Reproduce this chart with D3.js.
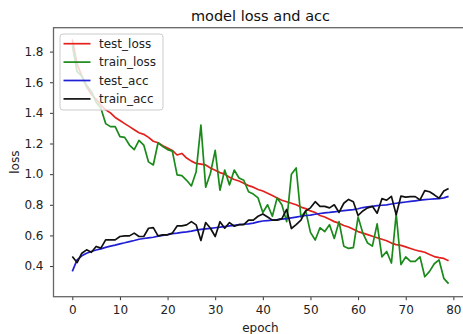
<!DOCTYPE html>
<html>
<head>
<meta charset="utf-8">
<script src="https://cdn.jsdelivr.net/npm/d3@7"></script>
<style>
  body { margin: 0; background: #fff; }
  svg { display: block; font-family: "DejaVu Sans", sans-serif; }
</style>
</head>
<body>
<div id="chart"></div>
<script>
// values, one per epoch
const testLoss = [1.88, 1.72, 1.64, 1.57, 1.52, 1.49, 1.45, 1.42, 1.40, 1.37,
  1.35, 1.33, 1.31, 1.29, 1.27, 1.26, 1.24, 1.215, 1.205, 1.185,
  1.17, 1.155, 1.125, 1.135, 1.105, 1.085, 1.07, 1.065, 1.06, 1.04,
  1.025, 1.01, 1.0, 0.98, 0.965, 0.955, 0.94, 0.925, 0.915, 0.90,
  0.89, 0.875, 0.86, 0.845, 0.83, 0.82, 0.81, 0.80, 0.785, 0.775,
  0.76, 0.75, 0.73, 0.72, 0.705, 0.69, 0.68, 0.665, 0.655, 0.64,
  0.625, 0.615, 0.605, 0.595, 0.585, 0.575, 0.565, 0.55, 0.54, 0.535,
  0.525, 0.515, 0.505, 0.497, 0.49, 0.475, 0.462, 0.455, 0.45, 0.435];

const trainLoss = [1.84, 1.67, 1.64, 1.58, 1.54, 1.47, 1.43, 1.33, 1.31, 1.31,
  1.245, 1.24, 1.19, 1.16, 1.22, 1.19, 1.08, 1.06, 1.205, 1.18,
  1.16, 1.15, 0.995, 0.99, 0.96, 0.923, 1.016, 1.32, 0.915, 1.006,
  1.155, 0.895, 1.027, 0.93, 1.027, 0.975, 0.96, 0.885, 0.87, 0.845,
  0.75, 0.80, 0.725, 0.845, 0.80, 0.69, 1.00, 1.04, 0.72, 0.76,
  0.62, 0.57, 0.65, 0.625, 0.67, 0.58, 0.69, 0.53, 0.515, 0.52,
  0.72, 0.615, 0.55, 0.53, 0.675, 0.46, 0.495, 0.42, 0.74, 0.41,
  0.46, 0.43, 0.43, 0.46, 0.33, 0.365, 0.415, 0.44, 0.32, 0.285];

const testAcc = [0.365, 0.44, 0.467, 0.484, 0.495, 0.505, 0.512, 0.522, 0.53, 0.537,
  0.545, 0.552, 0.56, 0.567, 0.575, 0.58, 0.584, 0.588, 0.595, 0.60,
  0.605, 0.612, 0.615, 0.62, 0.623, 0.628, 0.635, 0.64, 0.643, 0.646,
  0.65, 0.654, 0.658, 0.662, 0.666, 0.67, 0.673, 0.676, 0.68, 0.688,
  0.694, 0.697, 0.70, 0.703, 0.707, 0.71, 0.715, 0.72, 0.725, 0.73,
  0.733, 0.738, 0.743, 0.747, 0.75, 0.754, 0.758, 0.762, 0.765, 0.768,
  0.774, 0.782, 0.786, 0.79, 0.794, 0.797, 0.80, 0.805, 0.81, 0.814,
  0.818, 0.822, 0.826, 0.83, 0.834, 0.836, 0.838, 0.84, 0.845, 0.855];

const trainAcc = [0.463, 0.423, 0.484, 0.506, 0.49, 0.528, 0.517, 0.571, 0.571, 0.571,
  0.593, 0.597, 0.597, 0.615, 0.593, 0.593, 0.647, 0.651, 0.597, 0.604,
  0.604, 0.615, 0.662, 0.662, 0.669, 0.69, 0.669, 0.567, 0.684, 0.647,
  0.593, 0.69, 0.647, 0.684, 0.66, 0.67, 0.67, 0.70, 0.70, 0.725,
  0.74, 0.72, 0.70, 0.70, 0.71, 0.77, 0.645, 0.67, 0.70, 0.76,
  0.78, 0.82, 0.79, 0.79, 0.78, 0.80, 0.75, 0.81, 0.835, 0.82,
  0.73, 0.76, 0.78, 0.79, 0.745, 0.84, 0.83, 0.855, 0.735, 0.857,
  0.85, 0.853, 0.853, 0.832, 0.892, 0.885, 0.865, 0.843, 0.89, 0.907];

const seriesNames = ["test_loss", "train_loss", "test_acc", "train_acc"];
const seriesColors = ["#e3211c", "#1a8a1a", "#1f1fd6", "#111111"];
const xTicks = [0, 10, 20, 30, 40, 50, 60, 70, 80];
const yTicks = [0.4, 0.6, 0.8, 1.0, 1.2, 1.4, 1.6, 1.8];

const width = 463;
const height = 334;
const plotLeft = 53.5, plotRight = 467.4, plotTop = 27.7, plotBottom = 296.7;

const svg = d3.select("#chart").append("svg")
  .attr("width", width)
  .attr("height", height);

const x = d3.scaleLinear().domain([-3.95, 82.95]).range([plotLeft, plotRight]);
const y = d3.scaleLinear().domain([0.2, 1.956]).range([plotBottom, plotTop]);

const allSeries = [testLoss, trainLoss, testAcc, trainAcc];

const line = d3.line()
  .x((d, i) => x(i))
  .y(d => y(d));

svg.append("g").selectAll("path").data(allSeries).join("path")
  .attr("d", line)
  .attr("fill", "none")
  .attr("stroke", (d, i) => seriesColors[i])
  .attr("stroke-width", 1.7)
  .attr("stroke-linejoin", "round");

// axes
const xAxis = svg.append("g")
  .attr("transform", `translate(0, ${plotBottom})`)
  .call(d3.axisBottom(x).tickValues(xTicks).tickFormat(d3.format("d")).tickSize(3.5).tickPadding(4.8));
const yAxis = svg.append("g")
  .attr("transform", `translate(${plotLeft}, 0)`)
  .call(d3.axisLeft(y).tickValues(yTicks).tickFormat(d3.format(".1f")).tickSize(3.5).tickPadding(6.5));

[xAxis, yAxis].forEach(g => {
  g.select(".domain").remove();
  g.selectAll("line").attr("stroke", "#333");
  g.selectAll("text").attr("font-size", 12).attr("fill", "#222")
    .attr("font-family", "DejaVu Sans, sans-serif");
});

// frame
svg.append("rect")
  .attr("x", plotLeft).attr("y", plotTop)
  .attr("width", plotRight - plotLeft).attr("height", plotBottom - plotTop)
  .attr("fill", "none")
  .attr("stroke", "#666")
  .attr("stroke-width", 1.3);

svg.append("text")
  .attr("x", (plotLeft + plotRight) / 2).attr("y", 21)
  .attr("text-anchor", "middle")
  .attr("font-size", 14.5)
  .attr("fill", "#111")
  .text("model loss and acc");

svg.append("text")
  .attr("x", (plotLeft + plotRight) / 2).attr("y", 332)
  .attr("text-anchor", "middle")
  .attr("font-size", 12)
  .attr("fill", "#222")
  .text("epoch");

svg.append("text")
  .attr("transform", `translate(19, ${(plotTop + plotBottom) / 2}) rotate(-90)`)
  .attr("text-anchor", "middle")
  .attr("font-size", 12)
  .attr("fill", "#222")
  .text("loss");

// legend
const legend = svg.append("g");
legend.append("rect")
  .attr("x", 60).attr("y", 34)
  .attr("width", 103).attr("height", 76)
  .attr("rx", 3)
  .attr("fill", "#fff").attr("fill-opacity", 0.8)
  .attr("stroke", "#ccc").attr("stroke-width", 1);

const rows = legend.selectAll("g.row").data(seriesNames).join("g")
  .attr("class", "row")
  .attr("transform", (d, i) => `translate(0, ${43.7 + i * 18.4})`);
rows.append("line")
  .attr("x1", 63.5).attr("x2", 90.5)
  .attr("stroke", (d, i) => seriesColors[i])
  .attr("stroke-width", 1.7);
rows.append("text")
  .attr("x", 99).attr("dy", "0.35em")
  .attr("font-size", 12)
  .attr("fill", "#222")
  .text(d => d);
</script>
</body>
</html>
